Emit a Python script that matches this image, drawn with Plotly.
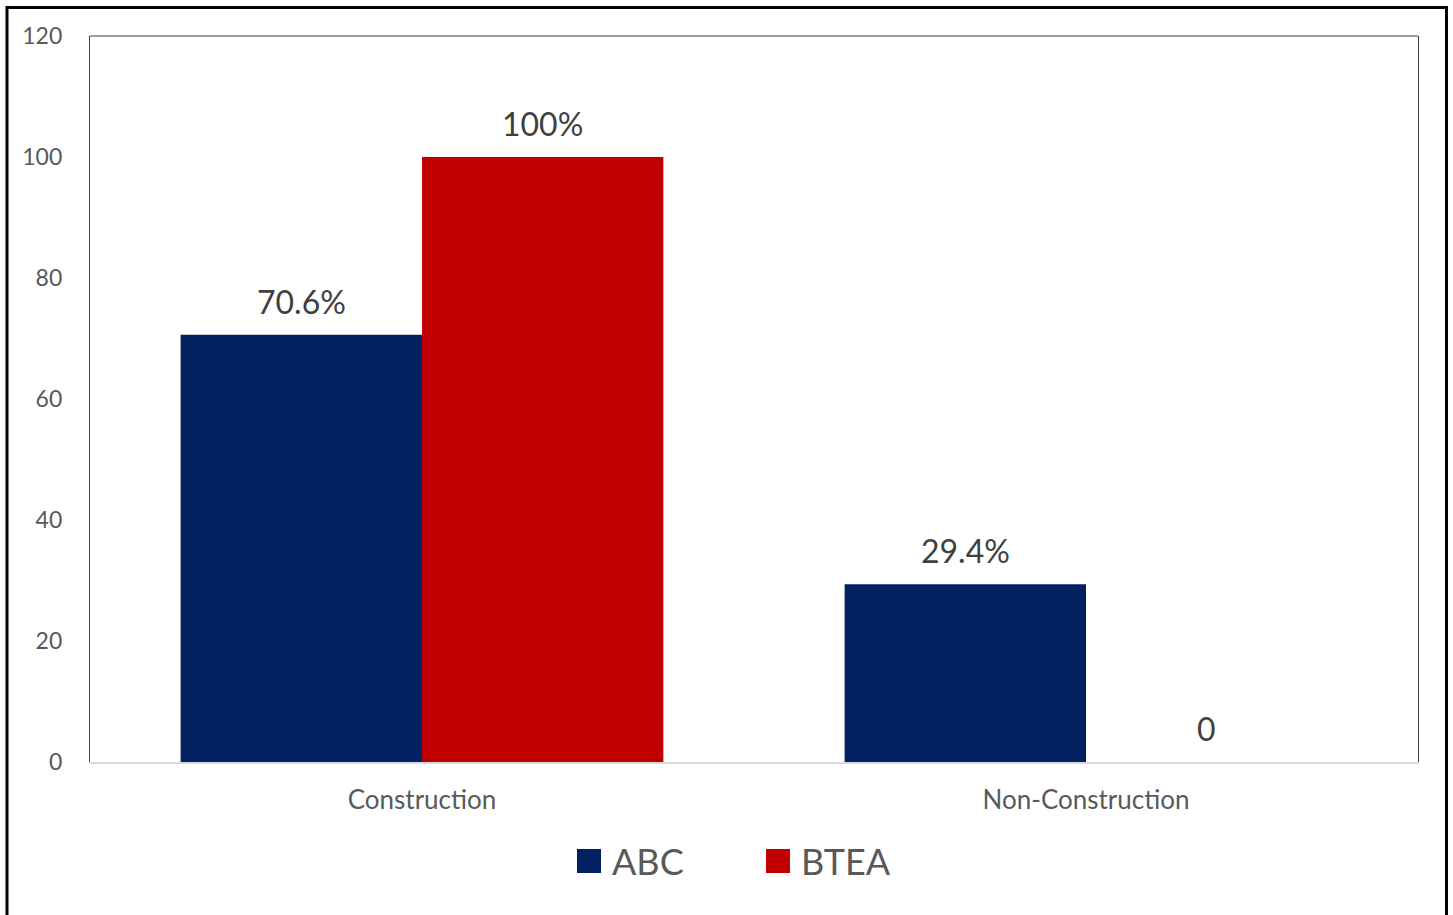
import plotly.graph_objects as go

categories = ["Construction", "Non-Construction"]
series_names = ["ABC", "BTEA"]
abc_values = [70.6, 29.4]
btea_values = [100, 0]
abc_labels = ["70.6%", "29.4%"]
btea_labels = ["100%", "0"]
colors = ["#002060", "#C00000"]
y_ticks = [0, 20, 40, 60, 80, 100, 120]

FONT = "Lato, 'Open Sans', sans-serif"
W, H = 1453, 915
L, R, T, B = 90, 35, 36, 153
PW, PH = W - L - R, H - T - B


def px(x):
    return (x - L) / PW


def py(y):
    return (H - B - y) / PH


fig = go.Figure()
all_values = [abc_values, btea_values]
all_labels = [abc_labels, btea_labels]
for name, vals, col in zip(series_names, all_values, colors):
    fig.add_trace(go.Bar(x=categories, y=vals, name=name, marker_color=col,
                         marker_line_width=0, showlegend=False, hoverinfo="skip"))

bargap = 0.273
bar_px = PW / len(categories) * (1 - bargap) / 2
annotations = []
for i, (vals, labs) in enumerate(zip(all_values, all_labels)):
    shift = (i - 0.5) * bar_px
    for c, v, lab in zip(categories, vals, labs):
        annotations.append(dict(x=c, y=v, xref="x", yref="y", text=lab,
                                showarrow=False, yanchor="bottom", yshift=12,
                                xshift=shift,
                                font=dict(family=FONT, size=32, color="#404040")))

# manual legend
leg_sq = [(577, 601), (766, 790)]
for (x0, x1), name, col in zip(leg_sq, series_names, colors):
    fig.add_shape(type="rect", xref="paper", yref="paper",
                  x0=px(x0), x1=px(x1), y0=py(873), y1=py(849),
                  fillcolor=col, line_width=0)
    annotations.append(dict(x=px(x1 + 9), y=py(861), xref="paper", yref="paper",
                            text=name, showarrow=False, xanchor="left", yanchor="middle",
                            font=dict(family=FONT, size=36, color="#595959")))

# top border of plot area
fig.add_shape(type="line", xref="paper", yref="paper", x0=0, x1=1, y0=1, y1=1,
              line=dict(color="#404040", width=1.2))
# outer black frame
fig.add_shape(type="rect", xref="paper", yref="paper",
              x0=px(7), x1=px(1446.5), y0=py(930), y1=py(7.5),
              line=dict(color="black", width=3), layer="above")

fig.update_layout(
    width=W, height=H,
    margin=dict(l=L, r=R, t=T, b=B),
    paper_bgcolor="white", plot_bgcolor="white",
    barmode="group", bargap=bargap, bargroupgap=0,
    annotations=annotations,
    showlegend=False,
    font=dict(family=FONT, color="#595959"),
)
fig.update_xaxes(showgrid=False, showline=True, linecolor="#d9d9d9", linewidth=2,
                 ticks="", tickfont=dict(family=FONT, size=26, color="#595959"),
                 ticklabelstandoff=14)
fig.update_yaxes(range=[0, 120], tickvals=y_ticks, showgrid=False, zeroline=False,
                 showline=True, mirror=True, linecolor="#404040", linewidth=1.2,
                 ticks="", tickfont=dict(family=FONT, size=23, color="#595959"),
                 ticklabelstandoff=22)

fig.write_html("out.html", config={"displayModeBar": False},
               post_script="document.body.style.margin='0px';document.body.style.overflow='hidden';")
